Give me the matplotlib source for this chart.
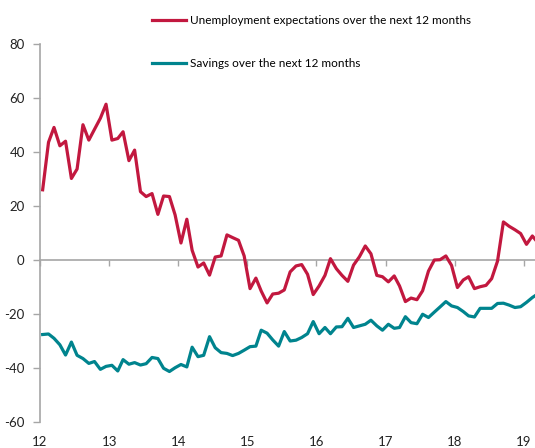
import numpy as np
import pandas as pd
import matplotlib.pyplot as plt
import matplotlib.dates as mdates

# monthly balances, Jan 2012 - Mar 2019
unemployment = [26, 43.6, 49.1, 42.3, 44, 30.2, 33.7, 50.1, 44.4, 48.4, 52.5, 57.7,
                44.4, 45, 47.5, 36.8, 40.7, 25.3, 23.5, 24.6, 16.9, 23.7, 23.5, 16.7,
                6.3, 15.1, 3.6, -2.6, -1.1, -5.6, 1.1, 1.5, 9.3, 8.3, 7.3, 1.5,
                -10.6, -6.7, -11.5, -15.9, -12.6, -12.3, -11.1, -4.4, -2.2, -1.7, -5.3, -12.8,
                -9.6, -5.7, 0.5, -3.2, -5.7, -7.9, -1.9, 1.2, 5.2, 2.3, -5.7, -6.2,
                -8.1, -5.9, -9.6, -15.4, -14.1, -14.7, -11.4, -4.1, 0, 0.1, 1.5, -2,
                -10.2, -7.4, -6.2, -10.6, -9.9, -9.4, -6.9, -0.4, 14.1, 12.5, 11.2, 9.8,
                5.8, 8.9, 6.5]
savings = [-27.6, -27.4, -29, -31.4, -35.2, -30.4, -35.3, -36.5, -38.3, -37.6, -40.5, -39.4,
           -39, -41.1, -36.9, -38.6, -38, -38.9, -38.4, -36.1, -36.5, -40.1, -41.3, -39.9,
           -38.7, -39.6, -32.3, -35.8, -35.3, -28.4, -32.5, -34.3, -34.6, -35.4, -34.6, -33.4,
           -32.1, -31.9, -26, -27.1, -29.6, -31.9, -26.5, -30, -29.7, -28.7, -27.3, -22.8,
           -27.3, -25, -27.3, -24.8, -24.7, -21.6, -25, -24.4, -23.8, -22.3, -24.4, -26,
           -23.8, -25.3, -25, -21, -23.2, -23.6, -20.1, -21.3, -19.3, -17.4, -15.4, -17,
           -17.6, -19.1, -20.7, -21.1, -17.9, -17.9, -17.9, -16.1, -16, -16.7, -17.6, -17.3,
           -15.7, -13.9, -12.6]
labels = ['Unemployment expectations over the next 12 months',
          'Savings over the next 12 months']
year_labels = ['12', '13', '14', '15', '16', '17', '18', '19']

months = pd.date_range('2012-01-01', periods=len(unemployment), freq='MS') + pd.Timedelta(days=14)
years = mdates.date2num(pd.date_range('2012-01-01', '2019-01-01', freq='YS'))

red = '#C2183F'
teal = '#00848E'
grey = '#A6A6A6'

plt.rcParams['font.family'] = ['Lato', 'DejaVu Sans']
plt.rcParams['font.size'] = 9.5
plt.rcParams['axes.unicode_minus'] = False

fig = plt.figure(figsize=(5.35, 4.48), dpi=100)
ax = fig.add_axes([40/535, 26/448, 495/535, 378/448])

ax.plot(months, unemployment, color=red, lw=2.3, label=labels[0])
ax.plot(months, savings, color=teal, lw=2.3, label=labels[1])

ax.set_ylim(-60, 80)
ax.set_yticks(range(-60, 81, 20))
ax.set_xlim(mdates.date2num(pd.Timestamp('2012-01-01')), mdates.date2num(pd.Timestamp('2019-03-01')))
ax.set_xticks(years)
ax.set_xticklabels(year_labels)
ax.tick_params(axis='x', length=0, pad=10, colors='#222222')
ax.tick_params(axis='y', length=5, width=1, color=grey, pad=6, labelcolor='#222222')
for s in ['top', 'right', 'bottom']:
    ax.spines[s].set_visible(False)
ax.spines['left'].set_color(grey)
ax.spines['left'].set_linewidth(1.2)

# zero line with the year ticks
sec = ax.secondary_xaxis(60/140)
sec.set_xticks(years)
sec.tick_params(axis='x', length=4, width=1, color=grey, labelbottom=False, labeltop=False)
sec.spines['bottom'].set_color(grey)
sec.spines['bottom'].set_linewidth(1.2)

ax.legend(loc='upper left', bbox_to_anchor=(152/535, 1 - 15/448), bbox_transform=fig.transFigure,
          frameon=False, borderpad=0, borderaxespad=0, handlelength=2.9, handletextpad=0.35,
          labelspacing=2.75, fontsize=8.5)

fig.savefig('out.png', dpi=100)
